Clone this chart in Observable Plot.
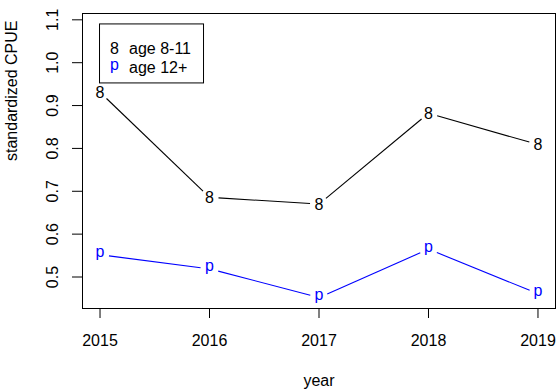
<!DOCTYPE html>
<html>
<head>
<meta charset="utf-8">
<script src="https://cdn.jsdelivr.net/npm/d3@7"></script>
<script src="https://cdn.jsdelivr.net/npm/@observablehq/plot@0.6"></script>
<style>
  body { margin: 0; background: #fff; }
</style>
</head>
<body>
<div id="chart"></div>
<script>
// Standardized CPUE by year for two age groups
const years = [2015, 2016, 2017, 2018, 2019];
const cpueAge8to11 = [0.931, 0.686, 0.670, 0.882, 0.809];
const cpueAge12plus = [0.552, 0.519, 0.452, 0.565, 0.461];
const seriesLabels = ["age 8-11", "age 12+"];
const seriesSymbols = ["8", "p"];
const seriesColors = ["black", "blue"];
const yTicks = [0.5, 0.6, 0.7, 0.8, 0.9, 1.0, 1.1];

const seriesValues = [cpueAge8to11, cpueAge12plus];
const font = "Liberation Sans, Arial, Helvetica, sans-serif";

// y limits: series minimum up to 1.17 x maximum (room for the key), then a 4% pad like R
const allValues = seriesValues.flat();
const yLim = [d3.min(allValues), d3.max(allValues) * 1.17];
const pad = (lim) => { const e = (lim[1] - lim[0]) * 0.04; return [lim[0] - e, lim[1] + e]; };
const xDomain = pad(d3.extent(years));
const yDomain = pad(yLim);

// offset from a glyph's baseline to its ink centre, so each symbol sits on its point
const symbolCentre = { "8": 0.358 * 16, "p": 0.155 * 16 };

const rows = seriesValues.flatMap((vals, s) =>
  years.map((year, i) => ({ year, value: vals[i], series: s })));

function layout(marks) {
  return Plot.plot({
    width: 558,
    height: 389,
    marginLeft: 82,
    marginRight: 3,
    marginTop: 13,
    marginBottom: 81,
    style: { fontFamily: font, fontSize: "16px", color: "black", background: "white" },
    x: { domain: xDomain, label: null },
    y: { domain: yDomain, label: null },
    marks: [
      Plot.axisX({ ticks: years, tickSize: 10, tickPadding: 16, fontSize: 16, tickFormat: (d) => String(d), label: null }),
      Plot.axisY({ ticks: yTicks, tickSize: 10, tickPadding: 14.5, tickRotate: -90, fontSize: 16, tickFormat: d3.format(".1f"), label: null }),
      Plot.frame({ stroke: "black", strokeWidth: 1 }),
      ...marks
    ]
  });
}

// first pass gives the scales used to leave gaps between the symbols and the lines
const probe = layout([]);
const sxd = probe.scale("x"), syd = probe.scale("y");
const sx = sxd.apply ? sxd : (() => { const s = d3.scaleLinear(sxd.domain, sxd.range); return { apply: s, invert: s.invert }; })();
const sy = syd.apply ? syd : (() => { const s = d3.scaleLinear(syd.domain, syd.range); return { apply: s, invert: s.invert }; })();

const gap = 9;
const segments = [];
seriesValues.forEach((vals, s) => {
  for (let i = 0; i < years.length - 1; i++) {
    const x0 = sx.apply(years[i]), y0 = sy.apply(vals[i]);
    const x1 = sx.apply(years[i + 1]), y1 = sy.apply(vals[i + 1]);
    const len = Math.hypot(x1 - x0, y1 - y0);
    const ux = (x1 - x0) / len, uy = (y1 - y0) / len;
    segments.push({
      series: s,
      x1: sx.invert(x0 + gap * ux), y1: sy.invert(y0 + gap * uy),
      x2: sx.invert(x1 - gap * ux), y2: sy.invert(y1 - gap * uy)
    });
  }
});

// key box, top-left corner anchored at (2015, upper y limit)
const keyX = years[0], keyY = yLim[1];
const keyBox = [{
  x1: keyX, y1: keyY,
  x2: sx.invert(sx.apply(keyX) + 104),
  y2: sy.invert(sy.apply(keyY) + 59)
}];

const seriesMarks = seriesValues.flatMap((vals, s) => [
  Plot.link(segments.filter((d) => d.series === s), {
    x1: "x1", y1: "y1", x2: "x2", y2: "y2",
    stroke: seriesColors[s], strokeWidth: 1.1
  }),
  Plot.text(rows.filter((d) => d.series === s), {
    x: "year", y: "value", text: () => seriesSymbols[s],
    fill: seriesColors[s], fontSize: 16, lineAnchor: "bottom",
    dy: symbolCentre[seriesSymbols[s]]
  })
]);

const keyMarks = [
  Plot.rect(keyBox, { x1: "x1", y1: "y1", x2: "x2", y2: "y2", fill: "white", stroke: "black", strokeWidth: 1 }),
  ...seriesLabels.flatMap((label, s) => [
    Plot.text([label], {
      x: () => keyX, y: () => keyY, text: () => seriesSymbols[s],
      fill: seriesColors[s], fontSize: 16, lineAnchor: "bottom", textAnchor: "middle",
      dx: 14.5, dy: 23.6 + s * 19.4 + symbolCentre[seriesSymbols[s]]
    }),
    Plot.text([label], {
      x: () => keyX, y: () => keyY, text: (d) => d,
      fill: "black", fontSize: 16, lineAnchor: "bottom", textAnchor: "start",
      dx: 29, dy: 29.3 + s * 19.4
    })
  ])
];

const titleMarks = [
  Plot.text(["year"], { frameAnchor: "bottom", text: (d) => d, fontSize: 16, lineAnchor: "bottom", dy: 77 }),
  Plot.text(["standardized CPUE"], { frameAnchor: "left", text: (d) => d, fontSize: 16, lineAnchor: "bottom", rotate: -90, dx: -65.5 })
];

const chart = layout([...seriesMarks, ...keyMarks, ...titleMarks]);
document.getElementById("chart").appendChild(chart);
</script>
</body>
</html>
